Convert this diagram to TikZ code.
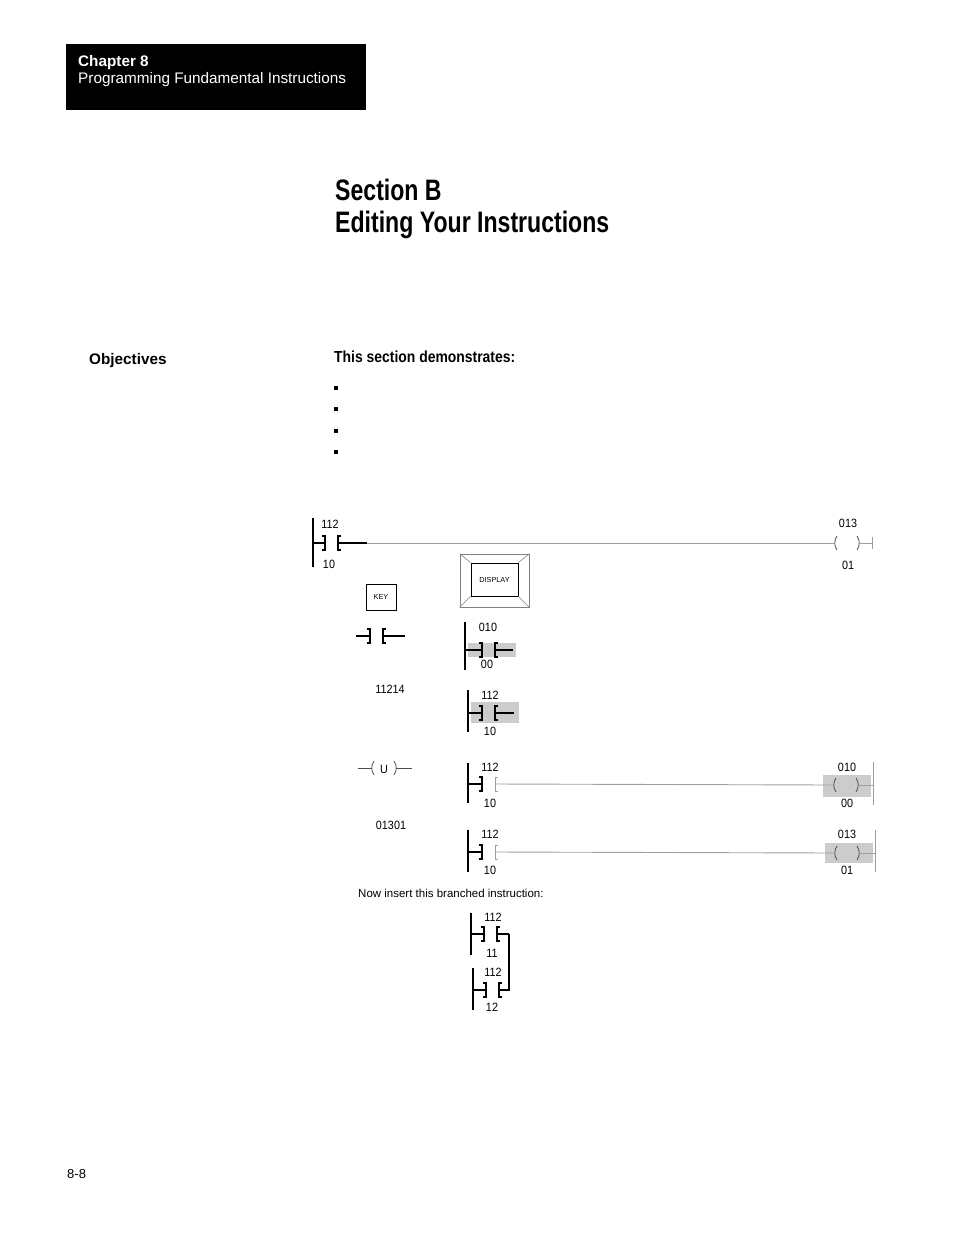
\documentclass[tikz,border=0pt]{standalone}
\usepackage{fontspec}
\setmainfont{Liberation Sans}
\newfontfamily\condfont[FakeStretch=0.78]{Liberation Sans}
\newfontfamily\narrowfont[FakeStretch=0.9]{Liberation Sans}
\newfontfamily\headfont[FakeStretch=0.87]{Liberation Sans}
\usetikzlibrary{positioning}

% contact: name, x of left bracket, y (optional style of right bracket)
\newcommand{\contactsym}[4][wire]{
    \coordinate (#2-l) at (#3,#4);
    \coordinate (#2-r) at (#3+13,#4);
    \draw[wire] (#3-3,#4-7) -| (#3,#4+7) -- (#3-3,#4+7);
    \draw[#1] (#3+16,#4-7) -| (#3+13,#4+7) -- (#3+16,#4+7);
}
% coil: name, x of left paren, y
\newcommand{\coilsym}[3]{
    \coordinate (#1-l) at (#2,#3);
    \coordinate (#1-r) at (#2+24,#3);
    \draw[paren] (#2+2,#3-7) .. controls (#2-1,#3-3) and (#2-1,#3+3) .. (#2+2,#3+7);
    \draw[paren] (#2+22,#3-7) .. controls (#2+25,#3-3) and (#2+25,#3+3) .. (#2+22,#3+7);
}

\begin{document}
\begin{tikzpicture}[x=1pt, y=-1pt,
    lbl/.style={font=\fontsize{12}{13}\narrowfont, inner sep=0pt},
    wire/.style={line width=1.1pt},
    lite/.style={line width=0.9pt, gray!75},
    paren/.style={line width=0.8pt, black!70},
    hilite/.style={fill=gray!40, draw=none},
    keybox/.style={draw, line width=0.8pt, font=\fontsize{7.3}{8}\selectfont, inner sep=0pt}]
    \useasboundingbox (0,0) rectangle (954,1235);

    %Header
    \node[fill=black, minimum width=300, minimum height=66, anchor=north west, inner sep=0pt] (chapbox) at (66,44) {};
    \node[anchor=base west, text=white, inner sep=0pt, font=\fontsize{15.3}{16}\selectfont\bfseries] (chap) at (78,66) {Chapter 8};
    \node[anchor=base west, text=white, inner sep=0pt, font=\fontsize{15.3}{16}\selectfont] (chaptitle) at (78,83) {Programming Fundamental Instructions};

    %Title
    \node[anchor=base west, inner sep=0pt, font=\fontsize{29.6}{30}\condfont\bfseries] (sect) at (335,200) {Section B};
    \node[anchor=base west, inner sep=0pt, font=\fontsize{29.6}{30}\condfont\bfseries] (secttitle) at (335,232) {Editing Your Instructions};

    \node[anchor=base west, inner sep=0pt, font=\fontsize{15.3}{16}\selectfont\bfseries] (obj) at (89,364) {Objectives};
    \node[anchor=base west, inner sep=0pt, font=\fontsize{16}{17}\headfont\bfseries] (demo) at (334,362) {This section demonstrates:};
    \foreach \y [count=\i] in {388,409,431,452}{
        \node[fill=black, minimum size=4, inner sep=0pt] (bul\i) at (336,\y) {};
    };

    %Top rung
    \coordinate (rail1a) at (313,518);
    \coordinate (rail1b) at (313,567);
    \draw[wire] (rail1a) -- (rail1b);
    \contactsym{c1}{325}{543}
    \coordinate (c1-e) at (367,543);
    \draw[wire] (rail1a |- c1-l) -- (c1-l);
    \draw[wire] (c1-r) -- (c1-e);
    \coilsym{o1}{835}{543}
    \draw[lite] (c1-e) -- (o1-l);
    \coordinate (rail1c) at (872,537);
    \coordinate (rail1d) at (872,549);
    \draw[lite] (o1-r) -- (rail1c |- o1-r);
    \draw[lite] (rail1c) -- (rail1d);
    \node[lbl] (c1-top) at (330,524) {112};
    \node[lbl] (c1-bot) at (329,564) {10};
    \node[lbl] (o1-top) at (848,523) {013};
    \node[lbl] (o1-bot) at (848,565) {01};

    %Keys
    \node[keybox, minimum width=30, minimum height=26] (key) at (381,597) {KEY};
    \node[draw=gray, line width=0.8pt, minimum width=69, minimum height=53, inner sep=0pt] (dispout) at (494.5,580.5) {};
    \node[keybox, minimum width=47, minimum height=33] (disp) at (494.5,579.5) {DISPLAY};
    \foreach \c in {north west, north east, south west, south east}{
        \draw[gray, line width=0.6pt] (dispout.\c) -- (disp.\c);
    };

    %Contact entry
    \coordinate (k1-a) at (356,636);
    \coordinate (k1-b) at (405,636);
    \contactsym{k1}{370}{636}
    \draw[wire] (k1-a) -- (k1-l);
    \draw[wire] (k1-r) -- (k1-b);

    \fill[hilite] (468,643) rectangle (516,657);
    \coordinate (rail2a) at (465,622);
    \coordinate (rail2b) at (465,670);
    \draw[wire] (rail2a) -- (rail2b);
    \contactsym{c2}{482}{650}
    \coordinate (c2-e) at (513,650);
    \draw[wire] (rail2a |- c2-l) -- (c2-l);
    \draw[wire] (c2-r) -- (c2-e);
    \node[lbl] (c2-top) at (488,627) {010};
    \node[lbl] (c2-bot) at (487,664) {00};

    \node[lbl] (addr1) at (390,689) {11214};
    \fill[hilite] (471,702) rectangle (519,723);
    \coordinate (rail3a) at (468,690);
    \coordinate (rail3b) at (468,732);
    \draw[wire] (rail3a) -- (rail3b);
    \contactsym{c3}{482}{713}
    \coordinate (c3-e) at (514,713);
    \draw[wire] (rail3a |- c3-l) -- (c3-l);
    \draw[wire] (c3-r) -- (c3-e);
    \node[lbl] (c3-top) at (490,695) {112};
    \node[lbl] (c3-bot) at (490,731) {10};

    %Coil entry
    \coordinate (u1-a) at (358,768);
    \coordinate (u1-b) at (412,768);
    \coilsym{u1}{372}{768}
    \node[lbl] (u1-txt) at (384,769) {U};
    \draw[paren] (u1-a) -- (u1-l);
    \draw[paren] (u1-r) -- (u1-b);

    \coordinate (rail4a) at (468,763);
    \coordinate (rail4b) at (468,803);
    \draw[wire] (rail4a) -- (rail4b);
    \contactsym[lite]{c4}{482}{784}
    \draw[wire] (rail4a |- c4-l) -- (c4-l);
    \fill[hilite] (823,775) rectangle (871,797);
    \coilsym{o4}{834}{785}
    \draw[lite] (c4-r) -- (o4-l);
    \coordinate (rail4c) at (873,762);
    \coordinate (rail4d) at (873,805);
    \draw[lite] (o4-r) -- (rail4c |- o4-r);
    \draw[lite] (rail4c) -- (rail4d);
    \node[lbl] (c4-top) at (490,767) {112};
    \node[lbl] (c4-bot) at (490,803) {10};
    \node[lbl] (o4-top) at (847,767) {010};
    \node[lbl] (o4-bot) at (847,803) {00};

    \node[lbl] (addr2) at (391,825) {01301};
    \coordinate (rail5a) at (468,830);
    \coordinate (rail5b) at (468,872);
    \draw[wire] (rail5a) -- (rail5b);
    \contactsym[lite]{c5}{482}{852}
    \draw[wire] (rail5a |- c5-l) -- (c5-l);
    \fill[hilite] (825,843) rectangle (873,863);
    \coilsym{o5}{835}{853}
    \draw[lite] (c5-r) -- (o5-l);
    \coordinate (rail5c) at (875,830);
    \coordinate (rail5d) at (875,872);
    \draw[lite] (o5-r) -- (rail5c |- o5-r);
    \draw[lite] (rail5c) -- (rail5d);
    \node[lbl] (c5-top) at (490,834) {112};
    \node[lbl] (c5-bot) at (490,870) {10};
    \node[lbl] (o5-top) at (847,834) {013};
    \node[lbl] (o5-bot) at (847,870) {01};

    \node[inner sep=0pt, anchor=west, font=\fontsize{11.5}{12}\selectfont] (note) at (358,893) {Now insert this branched instruction:};

    %Branch
    \coordinate (rail6a) at (471,913);
    \coordinate (rail6b) at (471,955);
    \draw[wire] (rail6a) -- (rail6b);
    \contactsym{c6}{484}{934}
    \coordinate (c6-e) at (509,934);
    \draw[wire] (rail6a |- c6-l) -- (c6-l);
    \draw[wire] (c6-r) -- (c6-e);
    \node[lbl] (c6-top) at (493,917) {112};
    \node[lbl] (c6-bot) at (492,953) {11};

    \coordinate (rail7a) at (473,968);
    \coordinate (rail7b) at (473,1010);
    \draw[wire] (rail7a) -- (rail7b);
    \contactsym{c7}{486}{990}
    \coordinate (c7-e) at (509,990);
    \draw[wire] (rail7a |- c7-l) -- (c7-l);
    \draw[wire] (c7-r) -- (c7-e) -- (c6-e);
    \node[lbl] (c7-top) at (493,972) {112};
    \node[lbl] (c7-bot) at (492,1007) {12};

    \node[anchor=base west, inner sep=0pt, font=\fontsize{13}{14}\selectfont] (pageno) at (67,1178) {8-8};
\end{tikzpicture}
\end{document}
